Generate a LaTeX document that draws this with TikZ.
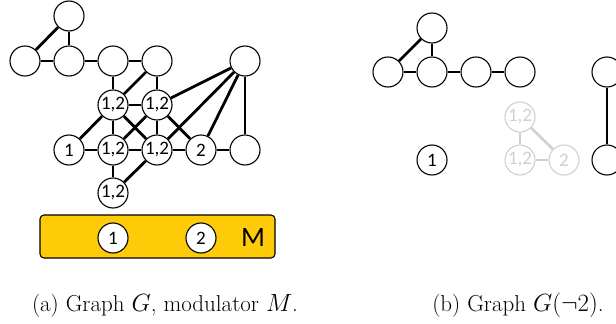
\documentclass[tikz,border=0pt]{standalone}
\usepackage{fontspec}
\newfontfamily\carlito{Carlito}
\definecolor{modgold}{HTML}{FFCA08}
\definecolor{ghost}{HTML}{D0D0D0}
\begin{document}
\begin{tikzpicture}[x=1pt,y=-1pt,
  vtx/.style={circle,draw=black,fill=white,line width=1.1pt,minimum size=30pt,inner sep=0pt,font=\carlito\fontsize{19}{19}\selectfont},
  gvtx/.style={vtx,draw=ghost,text=ghost},
  edge/.style={line width=2.8pt},
  thin edge/.style={line width=2pt},
  gedge/.style={line width=2.6pt,draw=ghost},
  captext/.style={font=\fontsize{23}{27}\selectfont,anchor=base}]
\useasboundingbox (0,0) rectangle (616,324);
% ---------- (a) ----------
\node[draw=black,line width=1.1pt,fill=modgold,rounded corners=4pt,minimum width=235pt,minimum height=43pt,inner sep=0pt] (box) at (157.5,236.5) {};
\node[font=\carlito\fontsize{28}{28}\selectfont] (mlab) at (253,238) {M};
\node[vtx] (m1) at (113,238) {1};
\node[vtx] (m2) at (201,238) {2};

\node[vtx] (top) at (69,16) {};
\node[vtx] (a1) at (25,61) {};
\node[vtx] (a2) at (69,61) {};
\node[vtx] (a3) at (113,61) {};
\node[vtx] (a4) at (157,61) {};
\node[vtx] (a5) at (245,61) {};
\node[vtx] (b1) at (113,105) {1,2};
\node[vtx] (b2) at (157,105) {1,2};
\node[vtx] (c1) at (69,150) {1};
\node[vtx] (c2) at (113,150) {1,2};
\node[vtx] (c3) at (157,150) {1,2};
\node[vtx] (c4) at (201,150) {2};
\node[vtx] (c5) at (245,150) {};
\node[vtx] (d1) at (113,193) {1,2};

\draw[edge] (top) -- (a1);
\draw[edge] (top) -- (a2);
\draw[edge] (a1) -- (a2);
\draw[edge] (a2) -- (a3);
\draw[edge] (a3) -- (a4);
\draw[edge] (a3) -- (b1);
\draw[edge] (a4) -- (b2);
\draw[edge] (a4) -- (b1);
\draw[edge] (b1) -- (b2);
\draw[edge] (a5) -- (b2);
\draw[edge] (a5) -- (c3);
\draw[edge] (a5) -- (c4);
\draw[thin edge] (a5) -- (c5);
\draw[edge] (b1) -- (c1);
\draw[edge] (b1) -- (c2);
\draw[edge] (b1) -- (c3);
\draw[edge] (b2) -- (c2);
\draw[edge] (b2) -- (c3);
\draw[edge] (b2) -- (c4);
\draw[edge] (c1) -- (c2);
\draw[edge] (c2) -- (c3);
\draw[edge] (c3) -- (c4);
\draw[edge] (c4) -- (c5);
\draw[edge] (c2) -- (d1);
\draw[edge] (c3) -- (d1);

\node[captext] (capa) at (165,311) {(a) Graph $G$, modulator $M$.};

% ---------- (b) ----------
\node[vtx] (rtop) at (432,28) {};
\node[vtx] (r1) at (388,72) {};
\node[vtx] (r2) at (432,72) {};
\node[vtx] (r3) at (476,72) {};
\node[vtx] (r4) at (520,72) {};
\node[vtx] (r5) at (607,72) {};
\node[vtx] (s1) at (432,160) {1};
\node[gvtx] (g1) at (520,117) {1,2};
\node[gvtx] (g2) at (520,160) {1,2};
\node[gvtx] (g3) at (564,160) {2};
\node[vtx] (s5) at (607,160) {};

\draw[edge] (rtop) -- (r1);
\draw[edge] (rtop) -- (r2);
\draw[edge] (r1) -- (r2);
\draw[edge] (r2) -- (r3);
\draw[edge] (r3) -- (r4);
\draw[thin edge] (r5) -- (s5);
\draw[gedge] (g1) -- (g2);
\draw[gedge] (g1) -- (g3);
\draw[gedge] (g2) -- (g3);

\node[captext] (capb) at (518,311) {(b) Graph $G(\neg 2)$.};
\end{tikzpicture}
\end{document}
